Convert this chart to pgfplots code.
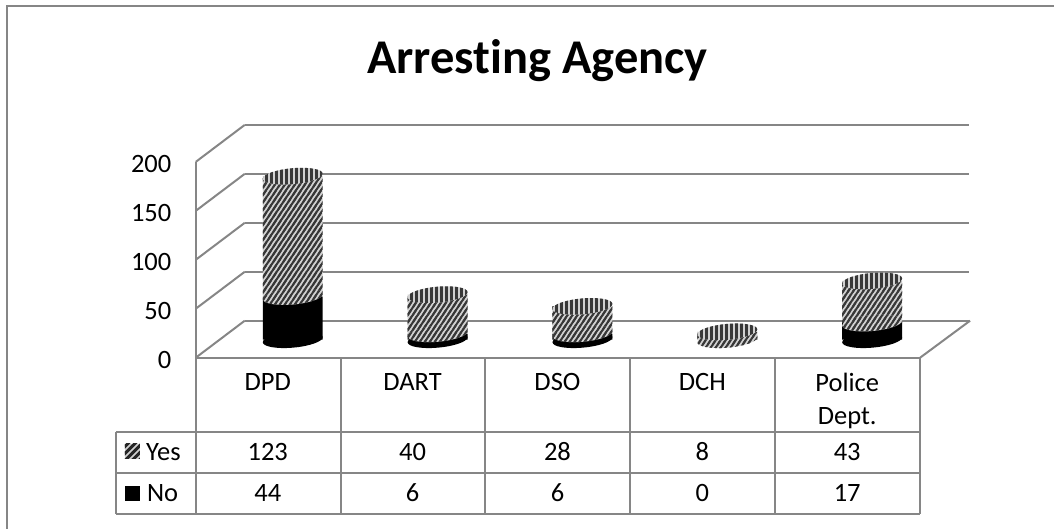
\documentclass[border=0pt]{standalone}
\usepackage{fontspec}
\setmainfont[Ligatures=NoCommon]{Carlito}
\usepackage{pgfplots}
\pgfplotsset{compat=1.18}
\usepackage{pgfplotstable}
\usetikzlibrary{patterns}
\definecolor{gl}{HTML}{868686}
\definecolor{lightst}{gray}{0.82}
\pgfplotstableread{
x  no  yes total
0.5 44 123 167
1.5 6  40  46
2.5 6  28  34
3.5 0  8   8
4.5 17 43  60
}\data
% hatches
\pgfdeclarepatternformonly{side}{\pgfqpoint{-2pt}{-3pt}}{\pgfqpoint{7pt}{10.5pt}}{\pgfqpoint{5pt}{7.5pt}}{%
  \pgfsetlinewidth{2pt}\pgfpathmoveto{\pgfqpoint{-2pt}{-3pt}}\pgfpathlineto{\pgfqpoint{7pt}{10.5pt}}\pgfusepathqstroke}
\pgfdeclarepatternformonly{key}{\pgfqpoint{-1pt}{-1pt}}{\pgfqpoint{8pt}{8pt}}{\pgfqpoint{7pt}{7pt}}{%
  \pgfsetlinewidth{3pt}\pgfpathmoveto{\pgfqpoint{-1pt}{-1pt}}\pgfpathlineto{\pgfqpoint{8pt}{8pt}}\pgfusepathqstroke}
\pgfdeclarepatternformonly{top}{\pgfqpoint{0pt}{0pt}}{\pgfqpoint{5pt}{5pt}}{\pgfqpoint{5pt}{5pt}}{%
  \pgfsetlinewidth{2.8pt}\pgfpathmoveto{\pgfqpoint{2.5pt}{0pt}}\pgfpathlineto{\pgfqpoint{2.5pt}{5pt}}\pgfusepathqstroke}
\def\cylshape{\pgfpathellipse{\pgfpointorigin}{\pgfqpoint{30pt}{2.5pt}}{\pgfqpoint{0pt}{8pt}}}
\pgfdeclareplotmark{capblack}{\cylshape\pgfsetfillcolor{black}\pgfusepathqfill}
\pgfdeclareplotmark{capside}{\cylshape\pgfsetfillcolor{lightst}\pgfusepathqfill
  \cylshape\pgfsetfillpattern{side}{black!78}\pgfusepath{fill}}
\pgfdeclareplotmark{captop}{\cylshape\pgfsetfillcolor{lightst}\pgfusepathqfill
  \cylshape\pgfsetfillpattern{top}{black!78}\pgfusepath{fill}}
\pgfplotsset{geom/.style={scale only axis,width=725pt,height=196pt,anchor=south west,
  xmin=0,xmax=5,ymin=0,ymax=200,clip=false}}
\begin{document}
\begin{tikzpicture}[font=\fontsize{26.5}{33}\selectfont]
\path (0pt,0pt) rectangle (1055pt,529pt);
\begin{scope}[x=1pt,y=-1pt,yshift=529pt]
\draw[gl,line width=2pt] (7,529)--(7,6)--(1055,6);
\node[font=\fontsize{48.5}{50}\selectfont\bfseries,anchor=base] at (538,74) {Arresting Agency};
\end{scope}
% back wall
\begin{axis}[geom,at={(245pt,208pt)},axis line style={draw=none},ymajorgrids,ytick={0,50,100,150,200},
  yticklabels={},major tick length=0pt,
  major grid style={gl,line width=2pt},xtick=\empty,xmax=5]
\addplot[draw=none,forget plot] coordinates {(0,0)};
\end{axis}
\begin{scope}[x=1pt,y=-1pt,yshift=529pt,gl,line width=2pt]
\foreach \yy in {358,309,260,211,162} \draw (196,\yy)--(245,\yy-37);
\draw (921,358)--(971,321);
\end{scope}
% cylinders
\begin{axis}[geom,at={(220.5pt,189pt)},axis lines=none,ybar stacked,bar width=60pt,bar shift=0pt]
\addplot[draw=none,fill=black] table[x=x,y=no] {\data};
\addplot[draw=none,fill=lightst,postaction={pattern=side,pattern color=black!78}] table[x=x,y=yes] {\data};
\end{axis}
\begin{axis}[geom,at={(220.5pt,189pt)},axis lines=none]
\addplot[only marks,mark=capblack] coordinates {(0.5,0)(1.5,0)(2.5,0)(4.5,0)};
\addplot[only marks,mark=capside] table[x=x,y=no] {\data};
\addplot[only marks,mark=captop] table[x=x,y=total] {\data};
\end{axis}
% front axis
\begin{axis}[geom,at={(196pt,171pt)},
  axis x line=bottom,axis y line=left,axis line style={gl,line width=2pt,-},
  x axis line style={-},y axis line style={-},
  ytick={0,50,100,150,200},major tick length=0pt,
  xtick={0.5,1.5,2.5,3.5,4.5},
  xticklabels={DPD,DART,DSO,DCH,{Police\\Dept.}},
  /pgf/number format/assume math mode=true,
  yticklabel style={anchor=east,xshift=-21pt,yshift=-2.5pt,text height=16.5pt,text depth=0pt},
  xticklabel style={align=center,anchor=north,yshift=-12pt,xshift=-0.5pt}]
\addplot[draw=none,forget plot] coordinates {(0,0)};
\end{axis}
% data table
\begin{scope}[x=1pt,y=-1pt,yshift=529pt]
\begin{scope}[gl,line width=2pt]
\foreach \xx in {196,341,485.5,630.5,776,921} \draw (\xx,358)--(\xx,514);
\draw (116,432)--(921,432) (116,473)--(921,473) (116,514)--(921,514);
\draw (116,432)--(116,514);
\end{scope}
\fill[lightst] (125,444) rectangle (140,459);
\fill[pattern=key,pattern color=black!85] (125,444) rectangle (140,459);
\fill[black] (125,486) rectangle (140,501);
\node[anchor=base west,inner sep=0pt] at (146,460.5) {Yes};
\node[anchor=base west,inner sep=0pt] at (147,501.5) {No};
\foreach \xx/\a/\b in {268/123/44,413/40/6,558/28/6,703/8/0,848/43/17}{
  \node[anchor=base] at (\xx,461) {\a};
  \node[anchor=base] at (\xx,502) {\b};
}
\end{scope}
\end{tikzpicture}
\end{document}
